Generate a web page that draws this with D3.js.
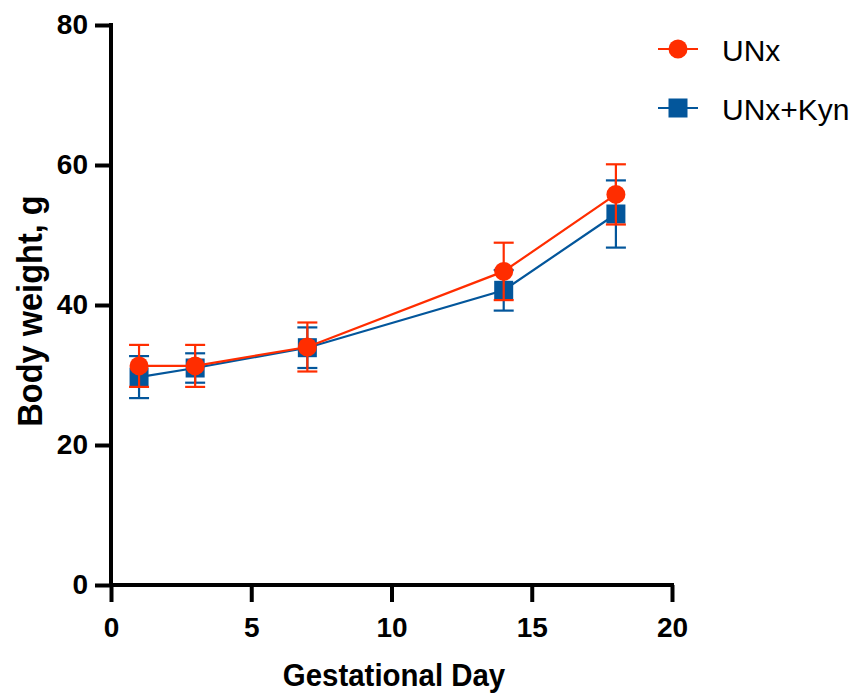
<!DOCTYPE html>
<html>
<head>
<meta charset="utf-8">
<script src="https://cdn.jsdelivr.net/npm/d3@7"></script>
<style>
  html, body { margin: 0; padding: 0; background: #fff; }
  svg { display: block; }
</style>
</head>
<body>
<svg id="chart" width="855" height="696"></svg>
<script>
const days = [1, 3, 7, 14, 18];
const unxMean = [31.3, 31.3, 34.0, 44.8, 55.8];
const unxErr  = [3.0, 3.0, 3.5, 4.1, 4.3];
const kynMean = [29.7, 31.0, 33.9, 42.1, 53.0];
const kynErr  = [3.0, 2.1, 2.9, 2.9, 4.8];
const xTicks = [0, 5, 10, 15, 20];
const yTicks = [0, 20, 40, 60, 80];
const seriesNames = ["UNx", "UNx+Kyn"];
const colors = ["#ff2d00", "#03569b"];

const svg = d3.select("#chart");
const x = d3.scaleLinear().domain([0, 20]).range([111, 672]);
const y = d3.scaleLinear().domain([0, 80]).range([585, 25]);

const font = "'Liberation Sans', Arial, sans-serif";

// Axes
const xAxis = svg.append("g").attr("transform", "translate(0,585)")
  .call(d3.axisBottom(x).tickValues(xTicks).tickSize(17).tickPadding(15).tickSizeOuter(0));
const yAxis = svg.append("g").attr("transform", "translate(111,0)")
  .call(d3.axisLeft(y).tickValues(yTicks).tickSize(16).tickPadding(7).tickSizeOuter(0));
[xAxis, yAxis].forEach(g => {
  g.select(".domain").attr("stroke", "#000").attr("stroke-width", 4);
  g.selectAll(".tick line").attr("stroke", "#000").attr("stroke-width", 4);
  g.selectAll(".tick text").attr("fill", "#000")
    .style("font-family", font).style("font-weight", "bold").style("font-size", "28px");
});
xAxis.select(".domain").attr("d", `M${x(0)-2},0H${x(20)+2}`);
yAxis.select(".domain").attr("d", `M0,${y(80)-2}V${y(0)+2}`);

// Axis titles (slightly condensed bold)
svg.append("text").attr("transform", "translate(394,686) scale(0.92,1)").attr("text-anchor", "middle")
  .style("font-family", font).style("font-weight", "bold").style("font-size", "32px")
  .text("Gestational Day");
svg.append("text").attr("transform", "translate(42,311) rotate(-90) scale(0.93,1)").attr("text-anchor", "middle")
  .style("font-family", font).style("font-weight", "bold").style("font-size", "35px")
  .text("Body weight, g");

const series = [
  { name: seriesNames[1], mean: kynMean, err: kynErr, color: colors[1], shape: "square" },
  { name: seriesNames[0], mean: unxMean, err: unxErr, color: colors[0], shape: "circle" }
];

const line = d3.line();
series.forEach(s => {
  const g = svg.append("g");
  const pts = days.map((d, i) => [x(d), y(s.mean[i])]);
  g.append("path").attr("d", line(pts)).attr("fill", "none")
    .attr("stroke", s.color).attr("stroke-width", 2.2);
  days.forEach((d, i) => {
    const cx = x(d), top = y(s.mean[i] + s.err[i]), bot = y(s.mean[i] - s.err[i]);
    g.append("line").attr("x1", cx).attr("x2", cx).attr("y1", top).attr("y2", bot)
      .attr("stroke", s.color).attr("stroke-width", 2.2);
    [top, bot].forEach(yy => g.append("line").attr("x1", cx - 10).attr("x2", cx + 10)
      .attr("y1", yy).attr("y2", yy).attr("stroke", s.color).attr("stroke-width", 2.2));
  });
  days.forEach((d, i) => {
    if (s.shape === "circle") {
      g.append("circle").attr("cx", x(d)).attr("cy", y(s.mean[i])).attr("r", 9.5).attr("fill", s.color);
    } else {
      g.append("rect").attr("x", x(d) - 9.5).attr("y", y(s.mean[i]) - 9.5)
        .attr("width", 19).attr("height", 19).attr("fill", s.color);
    }
  });
});

// Legend
const legendRows = [
  { name: seriesNames[0], color: colors[0], shape: "circle", yy: 49 },
  { name: seriesNames[1], color: colors[1], shape: "square", yy: 108 }
];
legendRows.forEach(r => {
  const g = svg.append("g");
  g.append("line").attr("x1", 658).attr("x2", 698).attr("y1", r.yy).attr("y2", r.yy)
    .attr("stroke", r.color).attr("stroke-width", 2.2);
  if (r.shape === "circle") g.append("circle").attr("cx", 678).attr("cy", r.yy).attr("r", 9.5).attr("fill", r.color);
  else g.append("rect").attr("x", 668.5).attr("y", r.yy - 9.5).attr("width", 19).attr("height", 19).attr("fill", r.color);
  g.append("text").attr("x", 722).attr("y", r.yy + 1).attr("dy", "0.36em")
    .style("font-family", font).style("font-size", "30px").attr("fill", "#000").text(r.name);
});
</script>
</body>
</html>
